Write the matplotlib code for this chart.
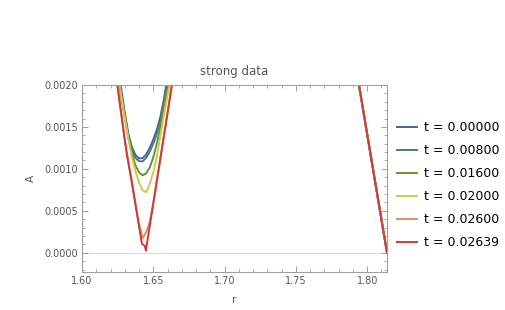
import matplotlib
matplotlib.use("Agg")
import matplotlib.pyplot as plt
from matplotlib.ticker import MultipleLocator, FormatStrFormatter

# ---------------- data ----------------
r_dip = [1.6225, 1.6250, 1.6275, 1.6300, 1.6325, 1.6350, 1.6375, 1.6400,
         1.6425, 1.6450, 1.6475, 1.6500, 1.6525, 1.6550, 1.6575, 1.6600,
         1.6625, 1.6650, 1.6675]
r_tail = [1.7923, 1.8139]

A_t00000 = [0.002467, 0.002229, 0.001956, 0.001671, 0.001420, 0.001260, 0.001165, 0.001125,
            0.001128, 0.001170, 0.001250, 0.001350, 0.001470, 0.001624, 0.001837, 0.002099,
            0.002348, 0.002597, 0.002847]
A_t00800 = [0.002408, 0.002170, 0.001909, 0.001635, 0.001390, 0.001225, 0.001130, 0.001092,
            0.001089, 0.001131, 0.001205, 0.001300, 0.001420, 0.001575, 0.001790, 0.002051,
            0.002300, 0.002550, 0.002799]
A_t01600 = [0.002360, 0.002122, 0.001861, 0.001612, 0.001374, 0.001184, 0.001041, 0.000958,
            0.000923, 0.000947, 0.001018, 0.001137, 0.001303, 0.001505, 0.001742, 0.001956,
            0.002194, 0.002431, 0.002669]
A_t02000 = [0.002384, 0.002134, 0.001873, 0.001612, 0.001362, 0.001137, 0.000970, 0.000840,
            0.000745, 0.000721, 0.000816, 0.000958, 0.001148, 0.001398, 0.001647, 0.001873,
            0.002099, 0.002324, 0.002550]
A_t02600 = [0.002265, 0.001980, 0.001659, 0.001350, 0.001089, 0.000852, 0.000590, 0.000341,
            0.000175, 0.000246, 0.000365, 0.000590, 0.000864, 0.001128, 0.001401, 0.001667,
            0.001941, 0.002205, 0.002479]
A_tail = [0.002198, 0.000000]

r_red = [1.6218, 1.6310, 1.6350, 1.6389, 1.6420, 1.6441, 1.6448, 1.6662]
A_t02639 = [0.002374, 0.001220, 0.000828, 0.000428, 0.000109, 0.0000796, 0.0000261, 0.002336]

labels = ["t = 0.00000", "t = 0.00800", "t = 0.01600",
          "t = 0.02000", "t = 0.02600", "t = 0.02639"]
colors = ["#4565a8", "#517c72", "#64952f", "#d6c64c", "#e48c5e", "#c83c3c"]

series_r = [r_dip, r_dip, r_dip, r_dip, r_dip, r_red]
series_A = [A_t00000, A_t00800, A_t01600, A_t02000, A_t02600, A_t02639]

# ---------------- figure ----------------
W, H = 505, 310
fig = plt.figure(figsize=(W / 100, H / 100), dpi=100)
ax = fig.add_axes([82 / W, 1 - 272.3 / H, (387 - 82) / W, (272.3 - 85) / H])

ax.axhline(0, color="#dddddd", lw=0.8, zorder=0)

handles = []
for r, A, c, lab in zip(series_r, series_A, colors, labels):
    rr = list(r) + r_tail
    aa = list(A) + A_tail
    h, = ax.plot(rr, aa, color=c, lw=1.4, label=lab, solid_joinstyle="round")
    handles.append(h)

ax.set_xlim(1.60, 1.8139)
ax.set_ylim(-0.000233, 0.0020)

ax.xaxis.set_major_locator(MultipleLocator(0.05))
ax.xaxis.set_minor_locator(MultipleLocator(0.01))
ax.yaxis.set_major_locator(MultipleLocator(0.0005))
ax.yaxis.set_minor_locator(MultipleLocator(0.0001))
ax.xaxis.set_major_formatter(FormatStrFormatter("%.2f"))
ax.yaxis.set_major_formatter(FormatStrFormatter("%.4f"))

for s in ax.spines.values():
    s.set_color("#a0a0a0")
    s.set_linewidth(0.8)
ax.tick_params(which="both", direction="in", top=True, right=True,
               color="#a0a0a0", labelcolor="#555555", labelsize=7, pad=3)
ax.tick_params(which="major", length=4, width=0.7)
ax.tick_params(which="minor", length=2, width=0.6)

ax.set_title("strong data", fontsize=8.5, color="#555555", pad=7)
ax.set_xlabel("r", fontsize=7.5, color="#555555", labelpad=6)
ax.set_ylabel("A", fontsize=7.5, color="#555555", labelpad=6)

fig.legend(handles=handles, labels=labels, loc="upper left",
           bbox_to_anchor=(397 / W, 1 - 121 / H), frameon=False,
           fontsize=9, handlelength=1.63, handletextpad=0.55,
           labelspacing=0.80, borderpad=0, borderaxespad=0)

fig.savefig("out.png", dpi=100)
